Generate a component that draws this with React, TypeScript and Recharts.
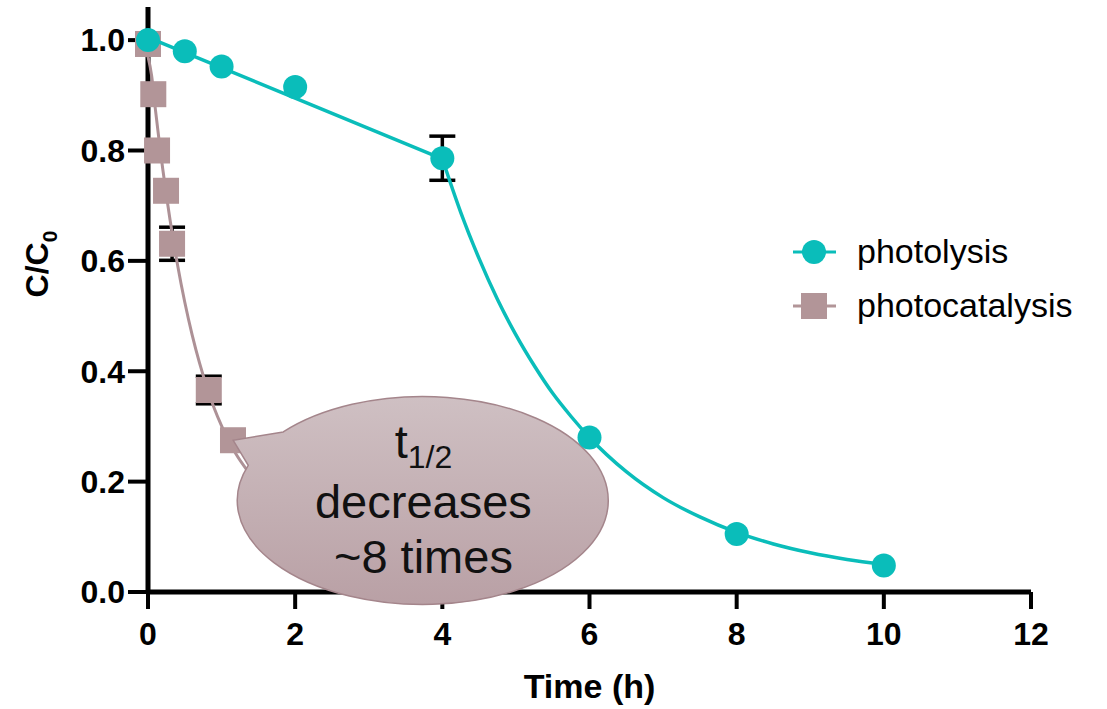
import React from 'react';
import { ComposedChart, Scatter, XAxis, YAxis, ErrorBar, Legend } from 'recharts';

const TEAL = '#0ABDBA';
const MAUVE = '#B29598';
const MAUVE_LINE = '#AD9196';
const FONT = '"Liberation Sans", Arial, sans-serif';

const xTicks = [0, 2, 4, 6, 8, 10, 12];
const yTicks = [0, 0.2, 0.4, 0.6, 0.8, 1.0];
const seriesNames = ['photolysis', 'photocatalysis'];
const xAxisTitle = 'Time (h)';
const yAxisTitleMain = 'C/C';
const yAxisTitleSub = '0';
const calloutTitle = 't';
const calloutTitleSub = '1/2';
const calloutLines = ['decreases', '~8 times'];

// measured points
const photolysisTime = [0, 0.5, 1, 2, 4, 6, 8, 10];
const photolysisValue = [1.0, 0.98, 0.952, 0.915, 0.786, 0.28, 0.105, 0.048];
const photolysisError = [null, null, null, null, 0.04, null, null, null];

const photocatTime = [0, 0.072, 0.123, 0.245, 0.327, 0.826, 1.155];
const photocatValue = [0.993, 0.902, 0.8, 0.727, 0.631, 0.366, 0.275];
const photocatError = [null, null, null, null, 0.03, 0.025, null];

// fitted curves
const photolysisFitATime = [0, 2, 4];
const photolysisFitAValue = [1.005, 0.895, 0.785];
const photolysisFitBTime = [4, 4.25, 4.5, 4.75, 5, 5.25, 5.5, 5.75, 6, 6.5, 7, 7.5, 8, 8.5, 9, 9.5, 10];
const photolysisFitBValue = [0.785, 0.688, 0.604, 0.53, 0.466, 0.41, 0.36, 0.318, 0.28, 0.218, 0.171, 0.136, 0.108, 0.087, 0.071, 0.059, 0.05];

const photocatFitTime = [0, 0.05, 0.1, 0.15, 0.2, 0.3, 0.4, 0.5, 0.6, 0.7, 0.8, 0.9, 1.0, 1.1, 1.2, 1.35, 1.5];
const photocatFitValue = [0.97, 0.935, 0.875, 0.819, 0.767, 0.674, 0.594, 0.525, 0.466, 0.415, 0.371, 0.333, 0.301, 0.273, 0.249, 0.22, 0.195];

// callout anchor (data units)
const calloutTime = [3.743];
const calloutValue = [0.168];

const zip = (xs: number[], ys: number[], es?: (number | null)[]) =>
  xs.map((x, i) => ({ x, y: ys[i], err: es ? es[i] : null }));

const photolysisPoints = zip(photolysisTime, photolysisValue, photolysisError);
const photocatPoints = zip(photocatTime, photocatValue, photocatError);
const photolysisFitA = zip(photolysisFitATime, photolysisFitAValue);
const photolysisFitB = zip(photolysisFitBTime, photolysisFitBValue);
const photocatFit = zip(photocatFitTime, photocatFitValue);
const callout = zip(calloutTime, calloutValue);

const Empty = () => <g />;

const CircleShape = (props: any) => <circle cx={props.cx} cy={props.cy} r={12} fill={TEAL} />;
const SquareShape = (props: any) => (
  <rect x={props.cx - 13} y={props.cy - 13} width={26} height={26} fill={MAUVE} />
);

const CalloutShape = (props: any) => {
  const { cx, cy } = props;
  const rx = 185.5;
  const ry = 104;
  const up = [cx - 140.2, cy - 67.3];
  const tip = [cx - 190.2, cy - 59];
  const low = [cx - 175.2, cy - 34];
  const d = `M ${up[0]} ${up[1]} L ${tip[0]} ${tip[1]} L ${low[0]} ${low[1]} A ${rx} ${ry} 0 1 0 ${up[0]} ${up[1]} Z`;
  return (
    <g>
      <defs>
        <linearGradient id="bubbleGrad" x1="0" y1="0" x2="0" y2="1">
          <stop offset="0%" stopColor="#CFC0C3" />
          <stop offset="100%" stopColor="#B9A0A5" />
        </linearGradient>
      </defs>
      <path d={d} fill="url(#bubbleGrad)" stroke="#A4858B" strokeWidth={1.5} />
      <text x={cx} y={cy - 41} textAnchor="middle" fontFamily={FONT} fontSize={47} fill="#111">
        <tspan>{calloutTitle}</tspan>
        <tspan dy={10} fontSize={32}>{calloutTitleSub}</tspan>
      </text>
      <text x={cx} y={cy + 19} textAnchor="middle" fontFamily={FONT} fontSize={47} fill="#111">
        {calloutLines[0]}
      </text>
      <text x={cx} y={cy + 74} textAnchor="middle" fontFamily={FONT} fontSize={47} fill="#111">
        {calloutLines[1]}
      </text>
    </g>
  );
};

const LegendContent = () => (
  <svg width={320} height={110} style={{ display: 'block', overflow: 'visible' }}>
    <line x1={13} y1={32} x2={56} y2={32} stroke={TEAL} strokeWidth={3} />
    <circle cx={34} cy={32} r={12} fill={TEAL} />
    <text x={77} y={43} fontSize={34} fontFamily={FONT} fill="#000">{seriesNames[0]}</text>
    <line x1={13} y1={86} x2={56} y2={86} stroke={MAUVE} strokeWidth={3} />
    <rect x={21} y={73} width={26} height={26} fill={MAUVE} />
    <text x={77} y={97} fontSize={34} fontFamily={FONT} fill="#000">{seriesNames[1]}</text>
  </svg>
);

const YLabel = () => (
  <text
    x={48}
    y={264}
    transform="rotate(-90, 48, 264)"
    textAnchor="middle"
    fontFamily={FONT}
    fontWeight="bold"
    fontSize={32}
    fill="#000"
  >
    <tspan>{yAxisTitleMain}</tspan>
    <tspan dy={9} fontSize={21}>{yAxisTitleSub}</tspan>
  </text>
);

const tickStyle = { fill: '#000', fontSize: 32, fontWeight: 'bold', fontFamily: FONT };

export default function App() {
  return (
    <div style={{ position: 'absolute', left: 0, top: 0, background: '#fff' }}>
      <ComposedChart width={1107} height={709} margin={{ top: 7, right: 76, bottom: 0, left: 0 }}>
        <XAxis
          type="number"
          dataKey="x"
          domain={[0, 12]}
          ticks={xTicks}
          height={117}
          axisLine={{ stroke: '#000', strokeWidth: 5 }}
          tickLine={{ stroke: '#000', strokeWidth: 4 }}
          tickSize={17}
          tickMargin={13}
          tick={tickStyle}
          label={{
            value: xAxisTitle,
            position: 'insideBottom',
            offset: 11,
            fill: '#000',
            fontSize: 34,
            fontWeight: 'bold',
            fontFamily: FONT,
          }}
        />
        <YAxis
          type="number"
          dataKey="y"
          domain={[0, 1.06]}
          ticks={yTicks}
          width={148}
          axisLine={{ stroke: '#000', strokeWidth: 5 }}
          tickLine={{ stroke: '#000', strokeWidth: 4 }}
          tickSize={20}
          tickMargin={3}
          tick={tickStyle}
          tickFormatter={(v: number) => v.toFixed(1)}
          label={{ content: YLabel }}
        />
        <Scatter
          data={photocatFit}
          line={{ stroke: MAUVE_LINE, strokeWidth: 3 }}
          lineJointType="monotoneX"
          shape={Empty}
          isAnimationActive={false}
          legendType="none"
        />
        <Scatter data={photocatPoints} shape={SquareShape} isAnimationActive={false}>
          <ErrorBar dataKey="err" direction="y" width={13} stroke="#000" strokeWidth={3.5} />
        </Scatter>
        <Scatter data={callout} shape={CalloutShape} isAnimationActive={false} legendType="none" />
        <Scatter
          data={photolysisFitA}
          line={{ stroke: TEAL, strokeWidth: 3.5 }}
          lineJointType="linear"
          shape={Empty}
          isAnimationActive={false}
          legendType="none"
        />
        <Scatter
          data={photolysisFitB}
          line={{ stroke: TEAL, strokeWidth: 3.5 }}
          lineJointType="monotoneX"
          shape={Empty}
          isAnimationActive={false}
          legendType="none"
        />
        <Scatter data={photolysisPoints} shape={CircleShape} isAnimationActive={false}>
          <ErrorBar dataKey="err" direction="y" width={13} stroke="#000" strokeWidth={3.5} />
        </Scatter>
        <Legend
          content={LegendContent}
          layout="vertical"
          align="center"
          verticalAlign="middle"
          wrapperStyle={{ left: 780, top: 220, width: 320, height: 110 }}
        />
      </ComposedChart>
    </div>
  );
}
